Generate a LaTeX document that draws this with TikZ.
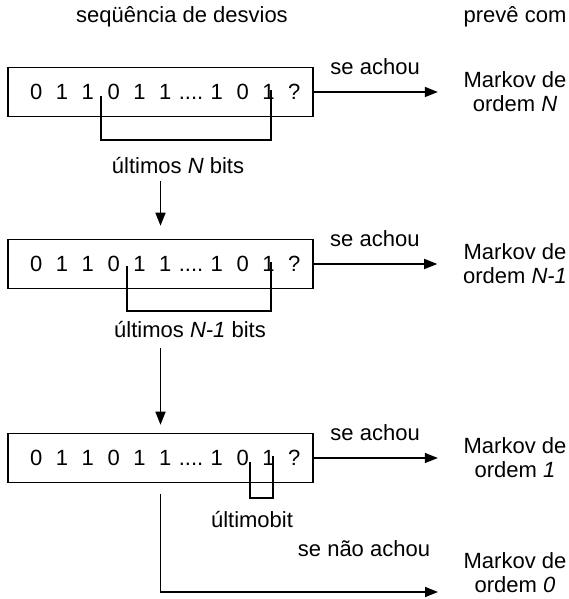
\documentclass[tikz,border=0pt]{standalone}
\usepackage{fontspec}
\setmainfont{Liberation Sans}
\usetikzlibrary{arrows.meta,calc}
\newcommand\dotrun{....}

\begin{document}
\begin{tikzpicture}[x=1pt,y=1pt,font=\fontsize{22}{24}\selectfont,
  seqbox/.style={draw,line width=1.5pt,minimum width=305pt,minimum height=49pt,inner sep=0pt},
  bit/.style={inner sep=0pt,text height=15.8pt,text depth=0pt},
  lbl/.style={inner sep=0pt,align=center},
  bk/.style={line width=1.5pt},
  ar/.style={-{Triangle[length=13pt,width=10pt]},line width=1.5pt}]

\useasboundingbox (0,0) rectangle (568,599);

% headings
\node[lbl] (h1) at (182,582) {seqüência de desvios};
\node[lbl] (h2) at (515,582) {prevê com};

% the three sequences
\node[seqbox] (b1) at (160.5,507) {};
\node[seqbox] (b2) at (160.5,335) {};
\node[seqbox] (b3) at (160.5,141) {};
\foreach \r in {1,2,3}
  \foreach \c [count=\i] in {0,1,1,0,1,1,\dotrun,1,0,1,?}
    \node[bit] (d\r-\i) at ($(b\r.west)+({29+25.8*(\i-1)},0)$) {\c};

% brackets under the bits
\coordinate (k1l) at (101,503);
\coordinate (k1r) at (271,509);
\draw[bk] (k1l) -- ++(0,-44) -| (k1r);
\coordinate (k2l) at (127,333);
\coordinate (k2r) at (271,337);
\draw[bk] (k2l) -- ++(0,-45) -| (k2r);
\coordinate (k3l) at (250,137);
\coordinate (k3r) at (273,143);
\draw[bk] (k3l) -- ++(0,-36) -| (k3r);

\node[lbl] (lb1) at (178,433) {últimos \textit{N} bits};
\node[lbl] (lb2) at (190,269) {últimos \textit{N-1} bits};
\node[lbl] (lb3) at (252,79) {últimobit};

% predictors
\node[lbl] (mk1) at (515,507) {Markov de\\ordem \textit{N}};
\node[lbl] (mk2) at (515,335) {Markov de\\ordem \textit{N-1}};
\node[lbl] (mk3) at (515,141) {Markov de\\ordem \textit{1}};
\node[lbl] (mk0) at (515,26) {Markov de\\ordem \textit{0}};

\draw[ar,shorten >=25.6pt] (b1.east) -- node[lbl,above=17pt,pos=.41] (sa1) {se achou} (b1.east -| mk1.west);
\draw[ar,shorten >=25.6pt] (b2.east) -- node[lbl,above=17pt,pos=.41] (sa2) {se achou} (b2.east -| mk2.west);
\draw[ar,shorten >=25.6pt] (b3.east) -- node[lbl,above=17pt,pos=.41] (sa3) {se achou} (b3.east -| mk3.west);

\draw[ar,shorten <=7pt,shorten >=13pt] (lb1.south -| b2.north) -- (b2.north);
\draw[ar,shorten <=10pt,shorten >=8pt] (lb2.south -| b3.north) -- (b3.north);

% not found
\coordinate (e0) at (438,7);
\draw[ar,shorten <=11pt] (b3.south) |- (e0);
\node[lbl,anchor=base] (sn) at (364,42) {se não achou};
\end{tikzpicture}
\end{document}
